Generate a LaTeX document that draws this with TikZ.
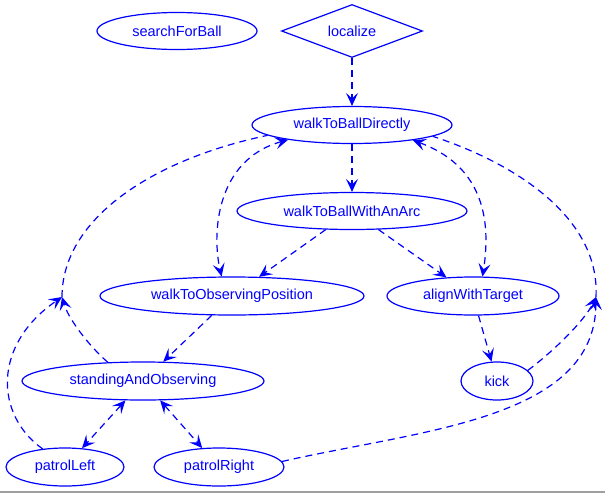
\documentclass[tikz,border=0pt]{standalone}
\usepackage{fontspec}
\setmainfont{Liberation Sans}
\usetikzlibrary{arrows.meta, shapes.geometric}
\definecolor{fsmcol}{HTML}{0000FF}
\definecolor{framecol}{HTML}{A0A0A0}
\tikzset{
  snode/.style={ellipse, draw=fsmcol, text=fsmcol, line width=1.2pt, inner sep=0pt, font=\fontsize{14.5}{16}\selectfont},
  dnode/.style={diamond, draw=fsmcol, text=fsmcol, line width=1.2pt, inner sep=0pt, aspect=2.66, font=\fontsize{14.5}{16}\selectfont},
  tline/.style={draw=fsmcol, line width=1.2pt, dash pattern=on 7pt off 5pt},
}

\begin{document}
\begin{tikzpicture}[x=1pt, y=-1pt, >={Stealth[length=13pt, width=12pt, inset=5.5pt]}]
  \useasboundingbox (0,0) rectangle (605,493);
  \node[snode, minimum width=160, minimum height=37] (search) at (177,31)  {searchForBall};
  \node[dnode, minimum width=141, minimum height=53] (loc)    at (352,31)  {localize};
  \node[snode, minimum width=200, minimum height=37] (wbd)    at (352,125) {walkToBallDirectly};
  \node[snode, minimum width=230, minimum height=37] (wab)    at (352,211) {walkToBallWithAnArc};
  \node[snode, minimum width=264, minimum height=38] (wtop)   at (232,296) {walkToObservingPosition};
  \node[snode, minimum width=172, minimum height=38] (align)  at (473,296) {alignWithTarget};
  \node[snode, minimum width=242, minimum height=38] (stand)  at (143,381) {standingAndObserving};
  \node[snode, minimum width=72,  minimum height=38] (kick)   at (497,381) {kick};
  \node[snode, minimum width=118, minimum height=38] (pleft)  at (65,467)  {patrolLeft};
  \node[snode, minimum width=130, minimum height=38] (pright) at (219,467) {patrolRight};
  \coordinate (mL) at (62,297);
  \coordinate (mR) at (596,297);

  \draw[tline, ->] (loc) -- (wbd);
  \draw[tline, ->] (wbd) -- (wab);
  \draw[tline, ->] (wab) -- (wtop);
  \draw[tline, ->] (wab) -- (align);
  \draw[tline, ->] (wtop) -- (stand);
  \draw[tline, ->] (align) -- (kick);
  \draw[tline, <->] (stand) -- (pleft);
  \draw[tline, <->] (stand) -- (pright);
  \draw[tline, <->] (wbd.193) .. controls (215,160) and (212,235) .. (wtop.118);
  \draw[tline, <->] (wbd.346) .. controls (480,165) and (492,215) .. (align.64);
  % merged edges on the left
  \draw[tline, ->] (stand.152) .. controls (88,345) and (68,318) .. (mL);
  \draw[tline, ->] (pleft.141) .. controls (-5,415) and (-8,345) .. (mL);
  \draw[tline] (mL) .. controls (62,220) and (150,160) .. (wbd.187);
  % merged edges on the right
  \draw[tline, ->] (kick.19) .. controls (555,350) and (585,320) .. (mR);
  \draw[tline, ->] (pright.5) .. controls (420,430) and (595,420) .. (mR);
  \draw[tline] (mR) .. controls (600,220) and (520,165) .. (wbd.352);

  \draw[framecol, line width=2pt] (0,492) -- (605,492);
\end{tikzpicture}
\end{document}
